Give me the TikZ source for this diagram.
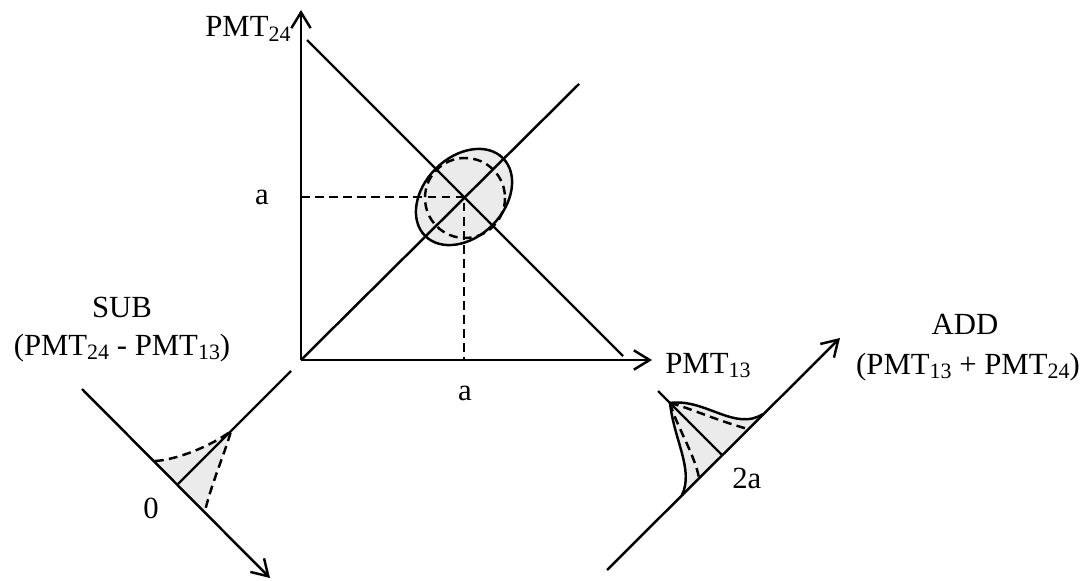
\documentclass[tikz,border=0pt]{standalone}
\usepackage{fontspec}
\setmainfont{Liberation Serif}
\usetikzlibrary{arrows.meta}
\newcommand\sbs[1]{\raisebox{-0.35ex}{\fontsize{12.5}{12.5}\selectfont #1}}
\begin{document}
\begin{tikzpicture}[x=0.02cm,y=-0.02cm,
  ax/.style={line width=1.4pt},
  arr/.style={ax,-{Straight Barb[length=9pt,width=11pt,line width=1.4pt]}},
  dsh/.style={line width=1.4pt,dash pattern=on 5pt off 3pt},
  lbl/.style={font=\fontsize{17.5}{21}\selectfont,inner sep=0pt},
  fillc/.style={fill=black!8}]
\path[use as bounding box] (0,0) rectangle (1086,581);

% main plot
\coordinate (O) at (301,360);
\coordinate (Ytip) at (301,10);
\coordinate (Xtip) at (652,360);
\coordinate (C) at (464,197);
\coordinate (C2) at (465,198);
\coordinate (D1) at (579,84);
\coordinate (A1) at (307,40);
\coordinate (A2) at (623,356);
\coordinate (Cy) at (301,197);
\coordinate (Cx) at (464,360);

\fill[fillc, rotate around={45:(C)}] (C) ellipse [x radius=55, y radius=40];
\draw[ax] (O) -- (D1);
\draw[ax] (A1) -- (A2);
\draw[dsh] (Cy) -- (C) -- (Cx);
\draw[ax, rotate around={45:(C)}] (C) ellipse [x radius=55, y radius=40];
\draw[dsh] (C2) circle [radius=40];
\draw[arr] (O) -- (Ytip);
\draw[arr] (O) -- (Xtip);

% SUB axis
\coordinate (S0) at (82,389);
\coordinate (S1) at (270,578);
\coordinate (Z) at (178,484);
\coordinate (ZP) at (291,371);
\coordinate (SL) at (155,461);
\coordinate (SP) at (231,431);
\coordinate (SR) at (205,511);
\fill[fillc] (SL) .. controls (175,460) and (210,447) .. (SP) .. controls (226,450) and (212,482) .. (SR) -- cycle;
\draw[dsh] (SL) .. controls (175,460) and (210,447) .. (SP) .. controls (226,450) and (212,482) .. (SR);
\draw[ax] (Z) -- (ZP);
\draw[arr] (S0) -- (S1);

% ADD axis
\coordinate (T0) at (607,570);
\coordinate (T1) at (840,338);
\coordinate (P2) at (722,455);
\coordinate (PP) at (658,391);
\coordinate (TP) at (670,403);
\coordinate (TL) at (682,495);
\coordinate (TR) at (763,414);
\coordinate (TD1) at (748,429);
\coordinate (TD2) at (699,478);
\fill[fillc] (TL) .. controls (694,470) and (674,440) .. (TP) .. controls (705,398) and (735,432) .. (TR) -- cycle;
\draw[ax] (TL) .. controls (694,470) and (674,440) .. (TP) .. controls (705,398) and (735,432) .. (TR);
\draw[dsh] (TP) .. controls (690,408) and (715,420) .. (TD1);
\draw[dsh] (TP) .. controls (676,425) and (695,455) .. (TD2);
\draw[ax] (P2) -- (PP);
\draw[arr] (T0) -- (T1);

% labels
\node[lbl, anchor=base west] (ly) at (205,37) {PMT\sbs{24}};
\node[lbl, anchor=base west] (lx) at (665,373) {PMT\sbs{13}};
\node[lbl, anchor=base] (la1) at (262,205) {a};
\node[lbl, anchor=base] (la2) at (465,400) {a};
\node[lbl, anchor=base west] (l2a) at (732,488) {2a};
\node[lbl, anchor=base] (l0) at (151,518) {0};
\node[lbl, anchor=base] (lsub) at (122,317) {SUB};
\node[lbl, anchor=base] (lsub2) at (122,355) {(PMT\sbs{24} - PMT\sbs{13})};
\node[lbl, anchor=base] (ladd) at (965,334) {ADD};
\node[lbl, anchor=base] (ladd2) at (968,374) {(PMT\sbs{13} + PMT\sbs{24})};
\end{tikzpicture}
\end{document}
